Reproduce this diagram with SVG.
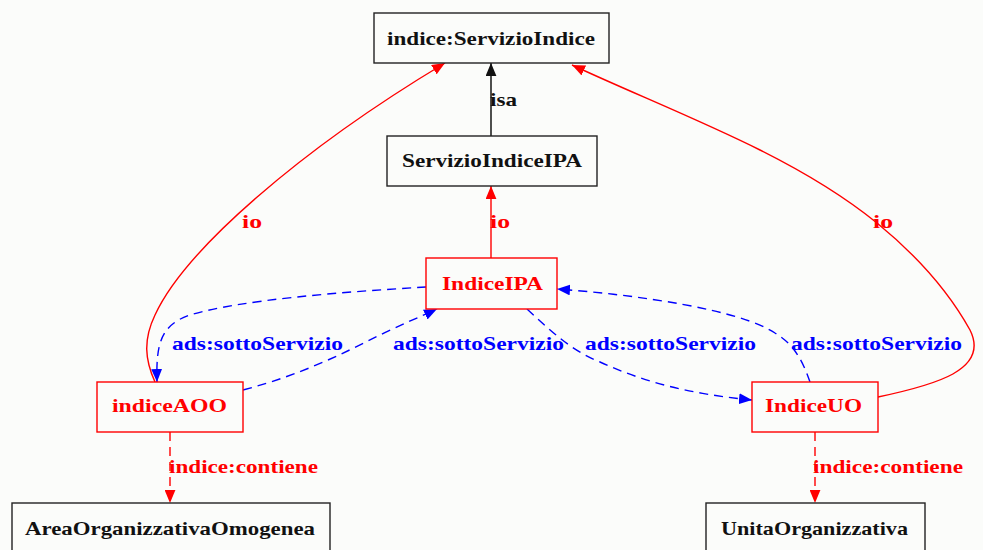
<svg xmlns="http://www.w3.org/2000/svg" width="983" height="550" viewBox="0 0 983 550">
<defs>
<style>
.bg{fill:#fbfcfa}
.nb{fill:#fbfcfa;stroke:#222;stroke-width:1.4}
.nr{fill:#fbfcfa;stroke:#f00;stroke-width:1.4}
text{font-family:"Liberation Serif","Times New Roman",serif;font-weight:bold;font-size:19px}
.tb{fill:#111}
.tr{fill:#f00}
.tu{fill:#00f}
.er{fill:none;stroke:#f00;stroke-width:1.4}
.ek{fill:none;stroke:#222;stroke-width:1.6}
.eu{fill:none;stroke:#00f;stroke-width:1.4;stroke-dasharray:9,6}
.erd{fill:none;stroke:#f00;stroke-width:1.4;stroke-dasharray:9,6}
</style>
<marker id="ar" viewBox="0 0 12 10" refX="12" refY="5" markerWidth="13" markerHeight="11" orient="auto" markerUnits="userSpaceOnUse"><path d="M0,0 L12,5 L0,10 z" fill="#f00"/></marker>
<marker id="ak" viewBox="0 0 12 10" refX="12" refY="5" markerWidth="13" markerHeight="11" orient="auto" markerUnits="userSpaceOnUse"><path d="M0,0 L12,5 L0,10 z" fill="#111"/></marker>
<marker id="au" viewBox="0 0 12 10" refX="12" refY="5" markerWidth="13" markerHeight="11" orient="auto" markerUnits="userSpaceOnUse"><path d="M0,0 L12,5 L0,10 z" fill="#00f"/></marker>
</defs>
<rect class="bg" x="0" y="0" width="983" height="550"/>
<g id="edges">
<path class="er" d="M155,382 C145,360 143,340 155,315 C185,250 300,150 445,63" marker-end="url(#ar)"/>
<text class="tr" x="242" y="228" textLength="20" lengthAdjust="spacingAndGlyphs">io</text>
<path class="ek" d="M491,136 L491,63" marker-end="url(#ak)"/>
<text class="tb" x="490" y="106" textLength="27" lengthAdjust="spacingAndGlyphs">isa</text>
<path class="er" d="M491,258 L491,186" marker-end="url(#ar)"/>
<text class="tr" x="490" y="228" textLength="20" lengthAdjust="spacingAndGlyphs">io</text>
<path class="er" d="M878,397 C935,385 990,370 970,330 C945,285 910,250 877,223 C840,193 800,170 760,150 C700,120 630,92 572,65" marker-end="url(#ar)"/>
<text class="tr" x="873" y="228" textLength="20" lengthAdjust="spacingAndGlyphs">io</text>
<path class="eu" d="M426,287 C340,292 240,300 190,315 C160,325 156,345 157,382" marker-end="url(#au)"/>
<text class="tu" x="172" y="350" textLength="171" lengthAdjust="spacingAndGlyphs">ads:sottoServizio</text>
<path class="eu" d="M243,390 C300,375 340,355 380,335 C400,325 420,317 437,309" marker-end="url(#au)"/>
<text class="tu" x="393" y="350" textLength="171" lengthAdjust="spacingAndGlyphs">ads:sottoServizio</text>
<path class="eu" d="M527,309 C550,330 570,350 600,362 C650,385 700,395 752,400" marker-end="url(#au)"/>
<text class="tu" x="585" y="350" textLength="171" lengthAdjust="spacingAndGlyphs">ads:sottoServizio</text>
<path class="eu" d="M810,382 C803,362 795,345 775,333 C740,310 640,295 557,289" marker-end="url(#au)"/>
<text class="tu" x="791" y="350" textLength="171" lengthAdjust="spacingAndGlyphs">ads:sottoServizio</text>
<path class="erd" d="M170,432 L170,503" marker-end="url(#ar)"/>
<text class="tr" x="169" y="473" textLength="149" lengthAdjust="spacingAndGlyphs">indice:contiene</text>
<path class="erd" d="M815,432 L815,503" marker-end="url(#ar)"/>
<text class="tr" x="813" y="473" textLength="150" lengthAdjust="spacingAndGlyphs">indice:contiene</text>
</g>
<g id="n-servizioIndice"><rect class="nb" x="374" y="13" width="235" height="50"/><text class="tb" x="387" y="45" textLength="208" lengthAdjust="spacingAndGlyphs">indice:ServizioIndice</text></g>
<g id="n-servizioIndiceIPA"><rect class="nb" x="387" y="136" width="210" height="50"/><text class="tb" x="402" y="167" textLength="180" lengthAdjust="spacingAndGlyphs">ServizioIndiceIPA</text></g>
<g id="n-indiceIPA"><rect class="nr" x="426" y="258" width="131" height="51"/><text class="tr" x="442" y="290" textLength="101" lengthAdjust="spacingAndGlyphs">IndiceIPA</text></g>
<g id="n-indiceAOO"><rect class="nr" x="97" y="382" width="146" height="50"/><text class="tr" x="112" y="412" textLength="115" lengthAdjust="spacingAndGlyphs">indiceAOO</text></g>
<g id="n-indiceUO"><rect class="nr" x="752" y="382" width="126" height="50"/><text class="tr" x="765" y="412" textLength="97" lengthAdjust="spacingAndGlyphs">IndiceUO</text></g>
<g id="n-area"><rect class="nb" x="12" y="503" width="318" height="60"/><text class="tb" x="25" y="535" textLength="290" lengthAdjust="spacingAndGlyphs">AreaOrganizzativaOmogenea</text></g>
<g id="n-unita"><rect class="nb" x="706" y="503" width="219" height="60"/><text class="tb" x="721" y="535" textLength="187" lengthAdjust="spacingAndGlyphs">UnitaOrganizzativa</text></g>
</svg>
